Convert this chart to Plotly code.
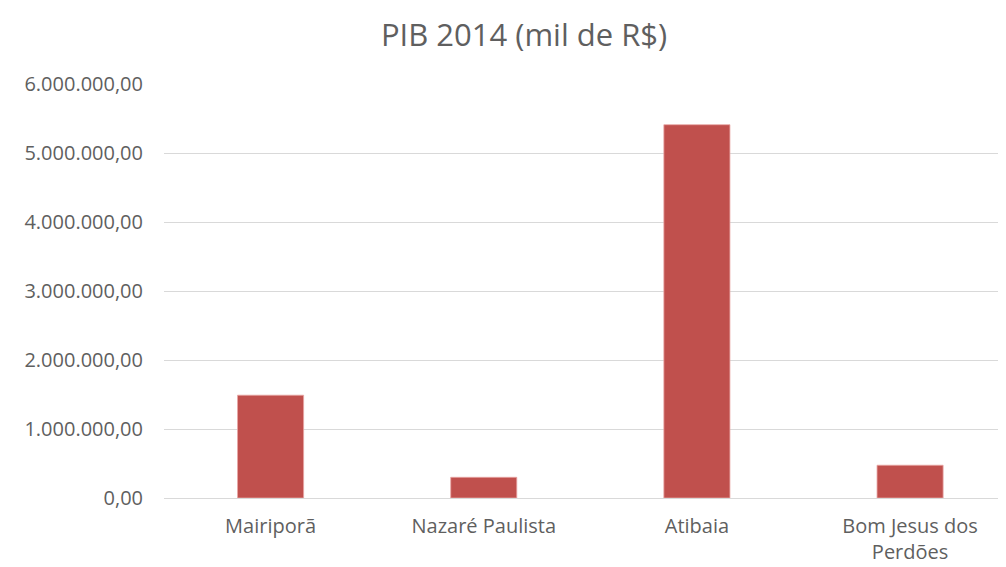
import plotly.graph_objects as go

categories = ["Mairiporã", "Nazaré Paulista", "Atibaia", "Bom Jesus dos<br>Perdões"]
values = [1490000, 300000, 5410000, 475000]
yticks = [0, 1000000, 2000000, 3000000, 4000000, 5000000, 6000000]

fig = go.Figure(go.Bar(
    x=categories, y=values,
    marker=dict(color="#C0504D", line=dict(color="#E8A6A4", width=0.8)),
    width=0.31,
))
fig.update_layout(
    width=1006, height=567,
    margin=dict(l=156, r=8, t=76, b=77),
    paper_bgcolor="white", plot_bgcolor="white",
    separators=",.",
    showlegend=False,
    font=dict(family="Open Sans, DejaVu Sans, sans-serif", color="#5f5f5f", size=18),
    title=dict(text="PIB 2014 (mil de R$)", x=0.513, xanchor="center", y=0.952, yanchor="middle",
               font=dict(size=31, color="#5f5f5f")),
)
fig.update_yaxes(range=[0, 6000000], tickvals=yticks, tickformat=",.2f",
                 showgrid=True, gridcolor="#D9D9D9", gridwidth=1, zeroline=True,
                 zerolinecolor="#D9D9D9", zerolinewidth=1, ticks="", ticklabelstandoff=20,
                 tickfont=dict(size=20, color="#5f5f5f"))
fig.update_xaxes(range=[-0.5, 3.45], showline=False, ticks="", showgrid=False,
                 tickfont=dict(size=20, color="#5f5f5f"), ticklabelstandoff=14)
fig.write_html("out.html")
